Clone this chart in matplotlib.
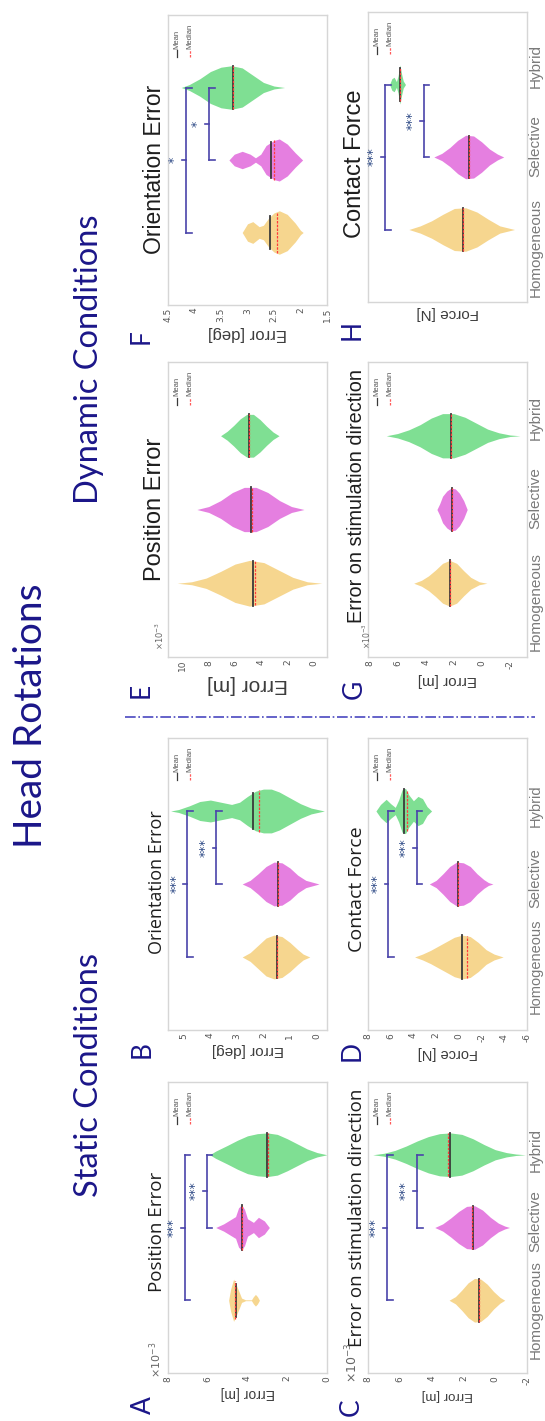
import numpy as np
import matplotlib
matplotlib.use("Agg")
import matplotlib.pyplot as plt
from matplotlib.lines import Line2D
from matplotlib.transforms import ScaledTranslation, blended_transform_factory

W_PX, H_PX = 545, 1421

CATEGORIES = ["Homogeneous", "Selective", "Hybrid"]
FILL = ["#f6d68f", "#e57fe0", "#7fdf93"]
NAVY = "#1b1689"
BRACKET = "#4a44aa"
STAR = "#2e4a86"

# violin outlines: (value, half width in category units)
# panel A - static position error (x1e-3 m)
A_HOM = [(4.95, 0), (4.85, 0.15), (4.7, 0.29), (4.55, 0.2), (4.4, 0.1), (4.3, 0.03),
         (4.1, 0.006), (3.8, 0.006), (3.7, 0.05), (3.6, 0.08), (3.5, 0.05), (3.4, 0)]
A_SEL = [(5.6, 0), (5.2, 0.05), (4.9, 0.1), (4.6, 0.15), (4.45, 0.27), (4.3, 0.31),
         (4.15, 0.25), (4.0, 0.12), (3.7, 0.07), (3.45, 0.14), (3.15, 0.09), (2.9, 0)]
A_HYB = [(5.9, 0), (5.6, 0.05), (5.0, 0.13), (4.5, 0.2), (4.0, 0.26), (3.5, 0.29),
         (3.0, 0.3), (2.5, 0.28), (2.0, 0.22), (1.5, 0.15), (1.0, 0.08), (0.5, 0.03), (0.0, 0)]
A_MEAN = [4.6, 4.3, 3.0]
A_MEDIAN = [4.65, 4.3, 2.95]
A_SIG = [(1, 3, 7.15, "***"), (2, 3, 6.05, "***")]

# panel B - static orientation error (deg)
B_HOM = [(2.8, 0), (2.5, 0.06), (2.2, 0.16), (1.9, 0.26), (1.6, 0.3), (1.3, 0.28),
         (1.0, 0.2), (0.7, 0.1), (0.5, 0.04), (0.25, 0)]
B_SEL = [(2.8, 0), (2.5, 0.05), (2.2, 0.14), (1.9, 0.24), (1.6, 0.3), (1.3, 0.29),
         (1.0, 0.22), (0.7, 0.12), (0.4, 0.05), (0.1, 0.02), (-0.1, 0)]
B_HYB = [(5.5, 0), (5.2, 0.02), (4.8, 0.07), (4.4, 0.13), (4.0, 0.15), (3.6, 0.12),
         (3.2, 0.09), (2.9, 0.12), (2.6, 0.2), (2.3, 0.27), (2.0, 0.3), (1.7, 0.3),
         (1.4, 0.26), (1.0, 0.18), (0.6, 0.1), (0.2, 0.04), (-0.3, 0)]
B_MEAN = [1.48, 1.45, 2.4]
B_MEDIAN = [1.48, 1.45, 2.15]
B_SIG = [(1, 3, 4.87, "***"), (2, 3, 3.77, "***")]

# panel C - static error on stimulation direction (x1e-3 m)
C_HOM = [(2.9, 0), (2.5, 0.05), (2.1, 0.14), (1.7, 0.24), (1.3, 0.3), (0.9, 0.29),
         (0.5, 0.22), (0.1, 0.12), (-0.3, 0.04), (-0.6, 0)]
C_SEL = [(3.8, 0), (3.3, 0.05), (2.8, 0.13), (2.3, 0.22), (1.8, 0.29), (1.3, 0.3),
         (0.8, 0.24), (0.3, 0.14), (-0.2, 0.06), (-0.6, 0.02), (-0.9, 0)]
C_HYB = [(7.7, 0), (7.0, 0.02), (6.3, 0.06), (5.6, 0.12), (4.9, 0.19), (4.2, 0.25),
         (3.5, 0.29), (2.8, 0.3), (2.1, 0.28), (1.4, 0.22), (0.7, 0.14), (0.0, 0.07),
         (-0.7, 0.03), (-1.3, 0.01), (-1.9, 0)]
C_MEAN = [1.05, 1.4, 2.85]
C_MEDIAN = [1.0, 1.45, 2.95]
C_SIG = [(1, 3, 6.8, "***"), (2, 3, 4.9, "***")]

# panel D - static contact force (N)
D_HOM = [(3.9, 0), (3.2, 0.04), (2.5, 0.09), (1.8, 0.15), (1.1, 0.21), (0.4, 0.27),
         (-0.3, 0.3), (-1.0, 0.28), (-1.7, 0.2), (-2.4, 0.1), (-3.1, 0.04), (-3.9, 0)]
D_SEL = [(2.6, 0), (2.0, 0.05), (1.4, 0.14), (0.8, 0.24), (0.2, 0.3), (-0.4, 0.29),
         (-1.0, 0.24), (-1.6, 0.14), (-2.2, 0.06), (-2.6, 0.02), (-3.0, 0)]
D_HYB = [(7.3, 0), (6.9, 0.09), (6.4, 0.16), (6.0, 0.1), (5.6, 0.05), (5.3, 0.15),
         (5.0, 0.29), (4.7, 0.31), (4.4, 0.22), (4.0, 0.14), (3.6, 0.2), (3.2, 0.17),
         (2.8, 0.06), (2.4, 0)]
D_MEAN = [-0.25, 0.1, 4.8]
D_MEDIAN = [-0.7, 0.1, 4.6]
D_SIG = [(1, 3, 6.2, "***"), (2, 3, 3.7, "***")]

# panel E - dynamic position error (x1e-3 m)
E_HOM = [(10.4, 0), (9.3, 0.02), (8.2, 0.07), (7.1, 0.16), (6.0, 0.26), (4.9, 0.31),
         (3.8, 0.28), (2.7, 0.18), (1.6, 0.08), (0.5, 0.02), (-0.6, 0)]
E_SEL = [(8.9, 0), (8.0, 0.04), (7.1, 0.12), (6.2, 0.23), (5.3, 0.3), (4.4, 0.3),
         (3.5, 0.23), (2.6, 0.12), (1.7, 0.04), (0.75, 0)]
E_HYB = [(7.1, 0), (6.6, 0.06), (6.1, 0.14), (5.6, 0.23), (5.1, 0.29), (4.6, 0.29),
         (4.1, 0.22), (3.6, 0.13), (3.1, 0.05), (2.65, 0)]
E_MEAN = [4.6, 4.75, 4.9]
E_MEDIAN = [4.5, 4.7, 4.9]
E_SIG = []

# panel F - dynamic orientation error (deg)
F_HOM = [(3.1, 0), (3.0, 0.12), (2.9, 0.15), (2.78, 0.08), (2.7, 0.1), (2.6, 0.2),
         (2.5, 0.27), (2.4, 0.3), (2.25, 0.25), (2.1, 0.13), (2.0, 0.03), (1.95, 0)]
F_SEL = [(3.35, 0), (3.25, 0.08), (3.1, 0.12), (2.95, 0.08), (2.85, 0.03), (2.75, 0.08),
         (2.65, 0.2), (2.5, 0.27), (2.4, 0.29), (2.25, 0.22), (2.1, 0.1), (1.96, 0)]
F_HYB = [(4.25, 0), (4.1, 0.04), (3.9, 0.12), (3.7, 0.22), (3.5, 0.28), (3.3, 0.3),
         (3.1, 0.27), (2.9, 0.17), (2.7, 0.07), (2.5, 0.02), (2.3, 0)]
F_MEAN = [2.57, 2.55, 3.28]
F_MEDIAN = [2.45, 2.5, 3.28]
F_SIG = [(1, 3, 4.16, "*"), (2, 3, 3.72, "*")]

# panel G - dynamic error on stimulation direction (x1e-3 m)
G_HOM = [(4.85, 0), (4.3, 0.04), (3.8, 0.1), (3.3, 0.18), (2.8, 0.27), (2.3, 0.31),
         (1.8, 0.27), (1.3, 0.17), (0.8, 0.08), (0.2, 0.02), (-0.35, 0)]
G_SEL = [(3.2, 0), (3.0, 0.08), (2.8, 0.18), (2.5, 0.25), (2.2, 0.29), (1.9, 0.28),
         (1.6, 0.22), (1.3, 0.12), (1.05, 0)]
G_HYB = [(6.8, 0), (6.0, 0.03), (5.2, 0.08), (4.4, 0.15), (3.6, 0.24), (2.8, 0.3),
         (2.0, 0.3), (1.2, 0.25), (0.4, 0.17), (-0.4, 0.09), (-1.2, 0.04), (-2.0, 0.01), (-2.7, 0)]
G_MEAN = [2.3, 2.1, 2.2]
G_MEDIAN = [2.3, 2.1, 2.2]
G_SIG = []

# panel H - dynamic contact force (N), axis printed without numbers
H_HOM = [(4.4, 0), (3.4, 0.05), (2.4, 0.12), (1.4, 0.21), (0.4, 0.29), (-0.6, 0.3),
         (-1.6, 0.24), (-2.6, 0.14), (-3.6, 0.05), (-4.9, 0)]
H_SEL = [(2.2, 0), (1.5, 0.05), (0.8, 0.13), (0.1, 0.23), (-0.6, 0.3), (-1.3, 0.29),
         (-2.0, 0.21), (-2.7, 0.11), (-3.4, 0.04), (-3.95, 0)]
H_HYB = [(6.1, 0), (5.9, 0.08), (5.7, 0.1), (5.5, 0.04), (5.35, 0.12), (5.2, 0.27),
         (5.05, 0.15), (4.9, 0.05), (4.7, 0)]
H_MEAN = [-0.4, -0.9, 5.15]
H_MEDIAN = [-0.4, -0.9, 5.15]
H_SIG = [(1, 3, 6.5, "***"), (2, 3, 3.1, "***")]

SANS = ["Liberation Sans", "DejaVu Sans"]
SEGOE = ["Open Sans", "DejaVu Sans"]
LATO = ["Lato", "DejaVu Sans"]


def px_box(x0, y0, x1, y1):
    # pixel box (figure is drawn already turned a quarter turn) -> figure fraction
    return [x0 / W_PX, 1 - y1 / H_PX, (x1 - x0) / W_PX, (y1 - y0) / H_PX]


def half_width(profile, v):
    vals = np.array([p[0] for p in profile])
    ws = np.array([p[1] for p in profile])
    order = np.argsort(vals)
    return np.interp(v, vals[order], ws[order])


def draw_panel(fig, ax, violins, means, medians, sig, lim, ticks, ticklabels,
               title, title_font, title_size, title_y, xlabel, xlabel_size,
               cat_size, cat_shift, expo=None):
    for i, prof in enumerate(violins):
        pos = i + 1
        v = np.array([p[0] for p in prof])
        w = np.array([p[1] for p in prof])
        ax.fill_between(v, pos - w, pos + w, color=FILL[i], lw=0, zorder=2)
        hm = half_width(prof, means[i])
        ax.plot([means[i], means[i]], [pos - hm, pos + hm], color="#3a3a3a", lw=1.3, zorder=3)
        hd = half_width(prof, medians[i])
        ax.plot([medians[i], medians[i]], [pos - hd, pos + hd], color="#ff3b3b",
                lw=0.9, ls=(0, (2, 1)), zorder=4)

    span = abs(lim[0] - lim[1])
    d = 0.035 * span
    for a, b, level, label in sig:
        mid = (a + b) / 2
        ax.plot([level, level], [a, b], color=BRACKET, lw=1.2, zorder=3)
        for end in (a, b):
            ax.plot([level, level - d], [end, end], color=BRACKET, lw=1.2, zorder=3)
        ax.plot([level, level + 0.7 * d], [mid, mid], color=BRACKET, lw=1.2, zorder=3)
        ax.text(level + 2.1 * d, mid, label, rotation=90, ha="center", va="center",
                fontsize=9, color=STAR, zorder=3)

    ax.set_xlim(lim)
    ax.set_ylim(0, 4)
    ax.set_xticks(ticks)
    ax.set_xticklabels(ticklabels)
    ax.tick_params(axis="x", length=0, labelsize=6.5, labelcolor="#555555",
                   rotation=90, pad=2)
    ax.set_yticks([1, 2, 3])
    ax.set_yticklabels([])
    ax.tick_params(axis="y", length=0)
    if cat_size:
        # group names sit to the right, nudged apart like in the original layout
        trans = blended_transform_factory(ax.transAxes, ax.transData)
        for pos, name, dy in zip([1, 2, 3], CATEGORIES, cat_shift):
            off = ScaledTranslation(1.5 / 100, -dy / 100, fig.dpi_scale_trans)
            ax.text(1, pos, name, transform=trans + off, rotation=90, ha="left",
                    va="center", fontsize=cat_size, color="#7a7a7a", family=SANS,
                    clip_on=False)
    for s in ax.spines.values():
        s.set_color("#d6d6d6")
        s.set_linewidth(1.0)

    ax.set_xlabel(xlabel, rotation=180, fontsize=xlabel_size, color="#3c3c3c",
                  family=SANS, labelpad=3)
    ax.text(-0.015, title_y, title, transform=ax.transAxes, rotation=90, ha="right",
            va="center", fontsize=title_size, color="#1e1e1e", family=title_font)

    # Mean / Median key in the corner
    for j, (name, col, ls) in enumerate([("Mean", "#3a3a3a", "-"),
                                          ("Median", "#ff5a5a", (0, (2, 1)))]):
        xf = 0.058 + j * 0.08
        ax.plot([xf, xf], [0.855, 0.879], transform=ax.transAxes, color=col, lw=0.9,
                ls=ls, zorder=5)
        ax.text(xf, 0.884, name, transform=ax.transAxes, rotation=90, ha="center",
                va="bottom", fontsize=5.5, color="#555555", family=SANS)

    if expo is not None:
        ex, ey, es = expo
        ax.text(ex, ey, r"$\times10^{-3}$", transform=ax.transAxes, rotation=90,
                ha="center", va="center", fontsize=es, color="#666666")


fig = plt.figure(figsize=(W_PX / 100, H_PX / 100), dpi=100)

STATIC_SHIFT = [9, -6, -5]
DYNAMIC_SHIFT = [18, -11, -18]

panels = [
    # violins, means, medians, sig, lim, ticks, labels, title, tfont, tsize, title_y,
    # xlabel, xlsize, catsize, catshift, expo, box, letter
    ([A_HOM, A_SEL, A_HYB], A_MEAN, A_MEDIAN, A_SIG, (8, 0), [8, 6, 4, 2, 0], ["8", "6", "4", "2", "0"],
     "Position Error", SEGOE, 13.5, 0.485, "Error [m]", 10, 0, None, (-0.08, 0.045, 8),
     (168, 1082, 327, 1373), ("A", 143, 1405)),
    ([B_HOM, B_SEL, B_HYB], B_MEAN, B_MEDIAN, B_SIG, (5.6, -0.4), [5, 4, 3, 2, 1, 0],
     ["5", "4", "3", "2", "1", "0"],
     "Orientation Error", SEGOE, 13, 0.507, "Error [deg]", 11, 0, None, None,
     (168, 738, 327, 1030), ("B", 142, 1050)),
    ([C_HOM, C_SEL, C_HYB], C_MEAN, C_MEDIAN, C_SIG, (8, -2), [8, 6, 4, 2, 0, -2],
     ["8", "6", "4", "2", "0", "-2"],
     "Error on stimulation direction", SEGOE, 13.5, 0.533, "Error [m]", 9.5, 11, STATIC_SHIFT,
     (-0.1, 0.035, 9), (368, 1082, 527, 1373), ("C", 351, 1407)),
    ([D_HOM, D_SEL, D_HYB], D_MEAN, D_MEDIAN, D_SIG, (8, -6), [8, 6, 4, 2, 0, -2, -4, -6],
     ["8", "6", "4", "2", "0", "-2", "-4", "-6"],
     "Contact Force", SEGOE, 14, 0.483, "Force [N]", 10.5, 10.5, STATIC_SHIFT, None,
     (368, 738, 527, 1030), ("D", 352, 1051)),
    ([E_HOM, E_SEL, E_HYB], E_MEAN, E_MEDIAN, E_SIG, (11.1, -1.0), [10, 8, 6, 4, 2, 0],
     ["10", "8", "6", "4", "2", "0"],
     "Position Error", SANS, 17, 0.5, "Error [m]", 15, 0, None, (-0.05, 0.07, 6),
     (168, 362, 327, 657), ("E", 141, 690)),
    ([F_HOM, F_SEL, F_HYB], F_MEAN, F_MEDIAN, F_SIG, (4.5, 1.5), [4.5, 4, 3.5, 3, 2.5, 2, 1.5],
     ["4.5", "4", "3.5", "3", "2.5", "2", "1.5"],
     "Orientation Error", SANS, 16.5, 0.469, "Error [deg]", 12, 0, None, None,
     (168, 15, 327, 305), ("F", 141, 337)),
    ([G_HOM, G_SEL, G_HYB], G_MEAN, G_MEDIAN, G_SIG, (8.1, -3.2), [8, 6, 4, 2, 0, -2],
     ["8", "6", "4", "2", "0", "-2"],
     "Error on stimulation direction", SANS, 14.3, 0.545, "Error [m]", 11, 11, DYNAMIC_SHIFT,
     (-0.005, 0.07, 5.5), (368, 362, 527, 657), ("G", 354, 689)),
    ([H_HOM, H_SEL, H_HYB], H_MEAN, H_MEDIAN, H_SIG, (8, -6), [], [],
     "Contact Force", SANS, 17, 0.476, "Force [N]", 11, 11, DYNAMIC_SHIFT, None,
     (368, 12, 527, 302), ("H", 352, 330)),
]

for (vio, mn, md, sg, lim, tk, tl, title, tf, ts, ty, xl, xls, cs, csh, expo, box, letter) in panels:
    ax = fig.add_axes(px_box(*box))
    draw_panel(fig, ax, vio, mn, md, sg, lim, tk, tl, title, tf, ts, ty, xl, xls, cs, csh, expo)
    name, lx, ly = letter
    fig.text(lx / W_PX, 1 - ly / H_PX, name, rotation=90, ha="center", va="center",
             fontsize=19, color=NAVY, family=LATO)

# headers
fig.text(31 / W_PX, 1 - 716 / H_PX, "Head Rotations", rotation=90, ha="center", va="center",
         fontsize=28, color=NAVY, family=LATO)
fig.text(89 / W_PX, 1 - 1075 / H_PX, "Static Conditions", rotation=90, ha="center",
         va="center", fontsize=23.5, color=NAVY, family=LATO)
fig.text(89 / W_PX, 1 - 359 / H_PX, "Dynamic Conditions", rotation=90, ha="center",
         va="center", fontsize=23.5, color=NAVY, family=LATO)

# dash-dot divider between static and dynamic blocks
fig.add_artist(Line2D([125 / W_PX, 535 / W_PX], [1 - 717 / H_PX, 1 - 717 / H_PX],
                      transform=fig.transFigure, color="#4a48c0", lw=1.2, ls="-."))

fig.savefig("out.png", dpi=100)
